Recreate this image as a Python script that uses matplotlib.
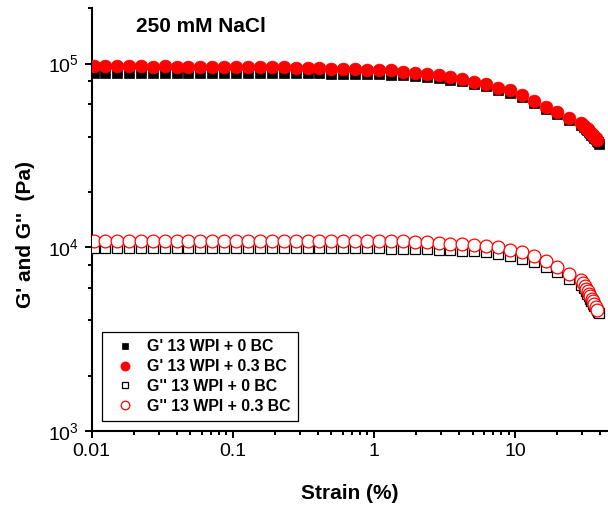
import matplotlib
matplotlib.use("Agg")
import matplotlib.pyplot as plt
from matplotlib.ticker import LogLocator, FixedLocator, FixedFormatter, NullFormatter

plt.rcParams['font.family'] = ['Liberation Sans', 'DejaVu Sans']
plt.rcParams['mathtext.fontset'] = 'custom'
plt.rcParams['mathtext.rm'] = 'Liberation Sans'
plt.rcParams['mathtext.it'] = 'Liberation Sans:italic'
plt.rcParams['mathtext.bf'] = 'Liberation Sans:bold'

# ---------------- data ----------------
title_text = "250 mM NaCl"
x_label = "Strain (%)"
y_label = "G' and G''  (Pa)"
x_ticks = [0.01, 0.1, 1, 10]
x_tick_labels = ["0.01", "0.1", "1", "10"]
y_ticks = [1e3, 1e4, 1e5]
y_tick_labels = [r"$10^3$", r"$10^4$", r"$10^5$"]
series_labels = ["G' 13 WPI + 0 BC", "G' 13 WPI + 0.3 BC",
                 "G'' 13 WPI + 0 BC", "G'' 13 WPI + 0.3 BC"]

strain_03bc = [0.0103, 0.0125, 0.0151, 0.0184, 0.0223, 0.0271, 0.0329, 0.0400,
               0.0485, 0.0589, 0.0716, 0.0869, 0.1055, 0.128, 0.156, 0.189,
               0.230, 0.279, 0.339, 0.411, 0.499, 0.606, 0.736, 0.894, 1.086,
               1.319, 1.60, 1.94, 2.36, 2.87, 3.48, 4.23, 5.13, 6.23, 7.57,
               9.19, 11.2, 13.6, 16.5, 20.0, 24.3, 29.5,
               30.5, 31.3, 32.0, 32.7, 33.4, 34.1, 34.9, 35.7, 36.5, 37.3, 38.2]

strain_0bc = [0.0103, 0.0125, 0.0151, 0.0184, 0.0223, 0.0271, 0.0329, 0.0400,
              0.0485, 0.0589, 0.0716, 0.0869, 0.1055, 0.128, 0.156, 0.189,
              0.230, 0.279, 0.339, 0.411, 0.499, 0.606, 0.736, 0.894, 1.086,
              1.319, 1.60, 1.94, 2.36, 2.87, 3.48, 4.23, 5.13, 6.23, 7.57,
              9.19, 11.2, 13.6, 16.5, 20.0, 24.3, 29.5,
              30.7, 31.6, 32.4, 33.2, 34.0, 34.8, 35.6, 36.4, 37.2, 38.0, 38.8, 39.6]

Gp_0bc = [89300, 89200, 89300, 89100, 89200, 89100, 89200, 89100, 89000, 89100,
          89000, 89000, 88900, 88900, 88800, 88800, 88700, 88600, 88500, 88400,
          88300, 88100, 87900, 87700, 87400, 87100, 86400, 85600, 84500, 83300,
          81600, 80000, 77300, 75400, 72000, 69600, 65400, 61000, 56800, 53100,
          49400, 46100,
          45000, 44100, 43300, 42500, 41700, 40900, 40200, 39500, 38800, 38100,
          37300, 36500]

Gp_03bc = [96600, 96500, 96600, 96500, 96500, 96400, 96500, 96400, 96400, 96300,
           96300, 96200, 96200, 96100, 96000, 95800, 95500, 95200, 94800, 94400,
           94000, 93600, 93200, 92800, 92300, 92000, 90500, 89400, 88200, 86800,
           84700, 82900, 79800, 77800, 74100, 71700, 67300, 62700, 58300, 54500,
           50700, 47300,
           46300, 45400, 44600, 43800, 43000, 42300, 41500, 40800, 40100, 39400,
           38600]

Gpp_0bc = [9940, 9930, 9940, 9930, 9920, 9930, 9940, 9930, 9920, 9930,
           9930, 9920, 9930, 9920, 9930, 9920, 9920, 9910, 9920, 9910,
           9900, 9900, 9890, 9880, 9870, 9850, 9830, 9800, 9760, 9710,
           9650, 9580, 9500, 9390, 9230, 8980, 8680, 8300, 7800, 7350,
           6730, 6250,
           6030, 5790, 5580, 5400, 5230, 5070, 4920, 4780, 4650, 4530,
           4450, 4380]

Gpp_03bc = [10880, 10870, 10880, 10870, 10860, 10870, 10880, 10870, 10860, 10870,
            10870, 10860, 10870, 10860, 10870, 10860, 10870, 10860, 10870, 10860,
            10860, 10850, 10850, 10840, 10830, 10780, 10770, 10700, 10650, 10570,
            10480, 10380, 10310, 10180, 10000, 9720, 9400, 9010, 8370, 7860,
            7170, 6650,
            6400, 6160, 5950, 5780, 5600, 5430, 5250, 5070, 4910, 4750, 4580]

# ---------------- figure ----------------
W, H = 608, 508
fig = plt.figure(figsize=(W / 100, H / 100), dpi=100)
ax_l, ax_r, ax_t, ax_b = 91.7, 608.0, 8.3, 431.0
ax = fig.add_axes([ax_l / W, 1 - ax_b / H, (ax_r - ax_l) / W, (ax_b - ax_t) / H])

ax.set_xscale('log')
ax.set_yscale('log')
ax.set_xlim(0.01, 45.6)
ax.set_ylim(1e3, 2e5)

h3, = ax.plot(strain_0bc, Gpp_0bc, ls='none', marker='s', ms=7.9,
              mfc='white', mec='black', mew=0.9, zorder=3)
h4, = ax.plot(strain_03bc, Gpp_03bc, ls='none', marker='o', ms=9.2,
              mfc='white', mec='red', mew=0.9, zorder=4)
h1, = ax.plot(strain_0bc, Gp_0bc, ls='none', marker='s', ms=7.9,
              mfc='black', mec='black', mew=0.5, zorder=5)
h2, = ax.plot(strain_03bc, Gp_03bc, ls='none', marker='o', ms=9.2,
              mfc='red', mec='red', mew=0.5, zorder=6)

for s in ['top', 'right']:
    ax.spines[s].set_visible(False)
for s in ['left', 'bottom']:
    ax.spines[s].set_linewidth(1.5)

ax.xaxis.set_major_locator(FixedLocator(x_ticks))
ax.xaxis.set_major_formatter(FixedFormatter(x_tick_labels))
ax.xaxis.set_minor_locator(LogLocator(base=10, subs=[2, 3, 4, 5, 6, 7, 8, 9]))
ax.xaxis.set_minor_formatter(NullFormatter())
ax.yaxis.set_major_locator(FixedLocator(y_ticks))
ax.yaxis.set_major_formatter(FixedFormatter(y_tick_labels))
ax.yaxis.set_minor_locator(LogLocator(base=10, subs=[2, 4, 6, 8]))
ax.yaxis.set_minor_formatter(NullFormatter())

ax.tick_params(which='major', direction='out', length=5, width=1.4,
               labelsize=14, pad=4)
ax.tick_params(which='minor', direction='out', length=2.6, width=1.4)

ax.set_xlabel(x_label, fontsize=15, fontweight='bold', labelpad=17)
ax.set_ylabel(y_label, fontsize=15, fontweight='bold')
ax.yaxis.set_label_coords(-0.128, 0.466)
ax.yaxis.label.set_va('center')

ax.text(0.2117, 0.9446, title_text, transform=ax.transAxes, ha='center',
        va='baseline', fontsize=15, fontweight='bold')

leg = ax.legend([h1, h2, h3, h4], series_labels, loc='lower left',
                bbox_to_anchor=(0.0205, 0.0244), borderaxespad=0,
                prop={'size': 11.4, 'weight': 'bold'}, frameon=True,
                fancybox=False, framealpha=1, edgecolor='black',
                borderpad=0.45, handlelength=2.0, handletextpad=0.4,
                labelspacing=0.3)
leg.get_frame().set_linewidth(0.9)
for hdl, ms in zip(leg.legend_handles, [4.6, 6.6, 4.6, 6.2]):
    hdl.set_markersize(ms)

fig.savefig("out.png", dpi=100)
